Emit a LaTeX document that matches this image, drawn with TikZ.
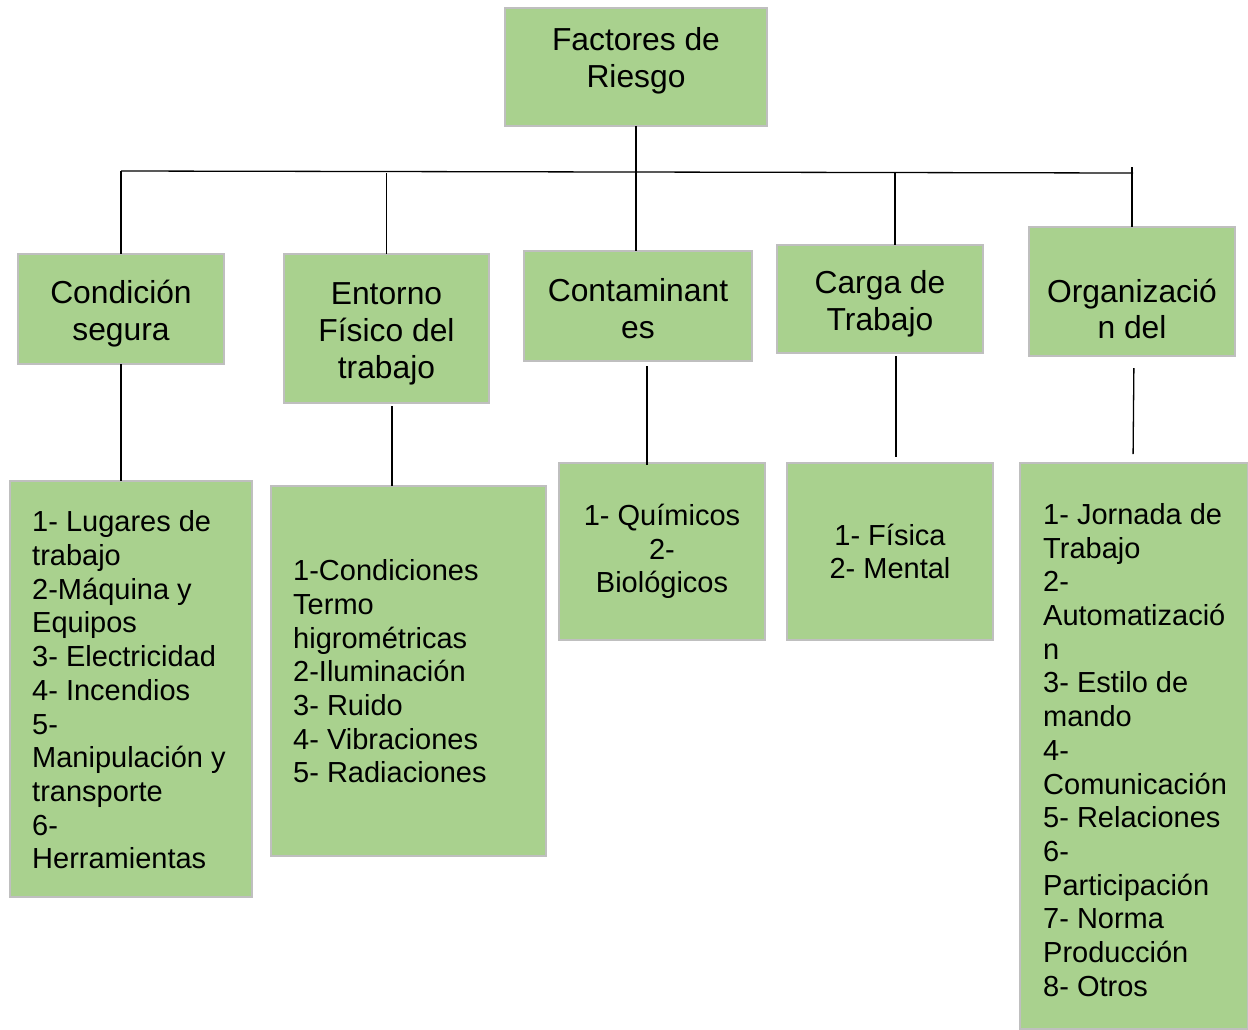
\documentclass[tikz,border=0pt]{standalone}
\usepackage{fontspec}
\setmainfont{Liberation Sans}
\definecolor{boxfill}{HTML}{A9D18E}
\definecolor{boxline}{HTML}{BFBFBF}
\begin{document}
\begin{tikzpicture}[x=1pt,y=-1pt,
  box/.style={draw=boxline, line width=1.5pt, fill=boxfill, inner sep=0pt, outer sep=0pt},
  head/.style={font=\fontsize{31.8}{36.8}\selectfont, align=center, inner sep=0pt},
  listtxt/.style={font=\fontsize{29}{33.7}\selectfont, align=left, inner sep=0pt},
  conn/.style={draw=black, line width=1.3pt}]
\useasboundingbox (0,0) rectangle (1248,1029);

% level 0
\node[box, minimum width=262, minimum height=118] (top) at (636,67) {};
\node[head] (topt) at (636,61) {Factores de\\Riesgo};

% level 1
\node[box, minimum width=206, minimum height=110] (cond) at (121,309) {};
\node[head] (condt) at (121,313.5) {Condición\\segura};
\node[box, minimum width=205, minimum height=149] (ent) at (386.5,328.5) {};
\node[head] (entt) at (386.5,334) {Entorno\\Físico del\\trabajo};
\node[box, minimum width=228, minimum height=110] (cont) at (638,306) {};
\node[head] (contt) at (638,309) {Contaminant\\es};
\node[box, minimum width=206, minimum height=108] (carga) at (880,299) {};
\node[head] (cargat) at (880,304) {Carga de\\Trabajo};
\node[box, minimum width=206, minimum height=129] (org) at (1132,291.5) {};
\node[head] (orgt) at (1132,309) {Organizació\\n del};

% level 2
\node[box, minimum width=242, minimum height=416] (l1) at (131,689) {};
\node[listtxt, anchor=west] (l1t) at (32,690) {1- Lugares de\\trabajo\\2-Máquina y\\Equipos\\3- Electricidad\\4- Incendios\\5-\\Manipulación y\\transporte\\6-\\Herramientas};

\node[box, minimum width=275, minimum height=370] (l2) at (408.5,671) {};
\node[listtxt, anchor=west] (l2t) at (293,671.5) {1-Condiciones\\Termo\\higrométricas\\2-Iluminación\\3- Ruido\\4- Vibraciones\\5- Radiaciones};

\node[box, listtxt, align=center, minimum width=206, minimum height=177] (l3) at (662,551.5) {1- Químicos\\2-\\Biológicos};

\node[box, listtxt, align=center, minimum width=206, minimum height=177] (l4) at (890,551.5) {1- Física\\2- Mental};

\node[box, minimum width=228, minimum height=566] (l5) at (1134,746) {};
\node[listtxt, anchor=west] (l5t) at (1043,750) {1- Jornada de\\Trabajo\\2-\\Automatizació\\n\\3- Estilo de\\mando\\4-\\Comunicación\\5- Relaciones\\6-\\Participación\\7- Norma\\Producción\\8- Otros};

% bus
\coordinate (busL) at (121,171);
\coordinate (busR) at (1133,173);
\draw[conn] (busL) -- (busR);
\draw[conn] (top.south) -- (top.south |- cont.north);
\draw[conn] (cond.north |- busL) -- (cond.north);
\draw[conn] (ent.north |- busR) -- (ent.north);
\draw[conn] ([xshift=15]carga.north |- busR) -- ([xshift=15]carga.north);
\draw[conn] (org.north |- 0,167) -- (org.north);

% down links
\draw[conn] (cond.south) -- (cond.south |- l1.north);
\draw[conn, shorten <=3pt] ([xshift=5.5]ent.south) -- ([xshift=5.5]ent.south |- l2.north);
\draw[conn, shorten <=5pt, shorten >=-2pt] ([xshift=-15]l3.north |- cont.south) -- ([xshift=-15]l3.north);
\draw[conn, shorten <=3pt, shorten >=6pt] ([xshift=16]carga.south) -- ([xshift=16]carga.south |- l4.north);
\draw[conn, shorten <=12pt, shorten >=9pt] ([xshift=2]org.south) -- ([xshift=1]org.south |- l5.north);
\end{tikzpicture}
\end{document}
